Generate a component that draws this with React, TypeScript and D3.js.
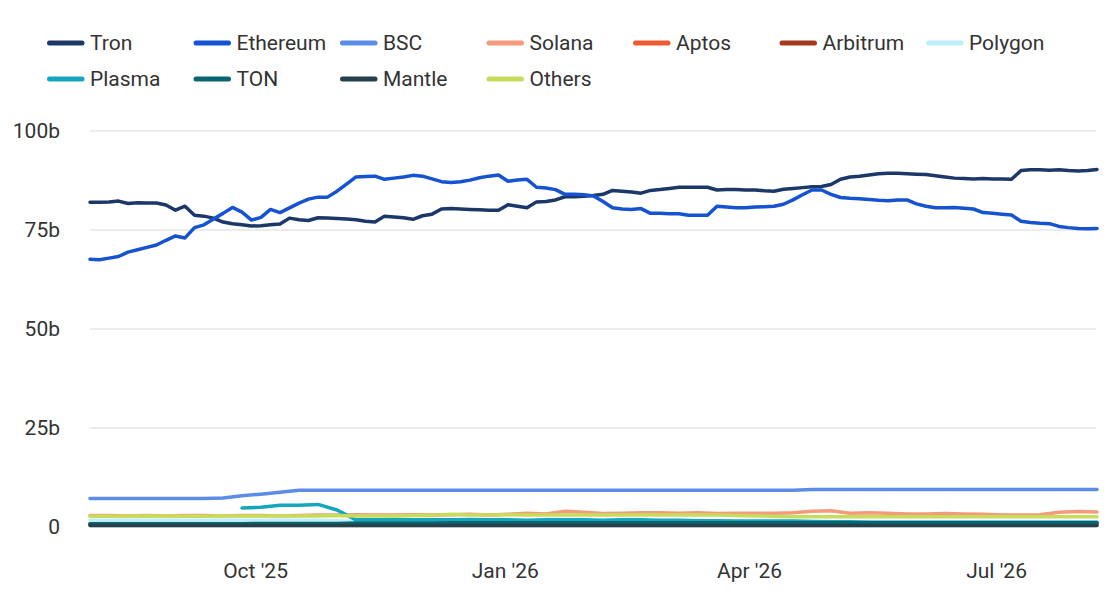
import * as d3 from "d3";

// observations start 1 Aug 2025; the two big chains are read twice a week, the rest weekly
const startDate = new Date(2025, 7, 1);
const weeklyDates = d3.range(54).map((i) => d3.timeDay.offset(startDate, i * 7));
const halfWeekDates = d3.range(107).map((i) => d3.timeHour.offset(startDate, i * 84));

const tron = [
  82.0, 82.0, 82.1, 82.3, 81.7, 81.9, 81.8, 81.8, 81.3, 80.0,
  81.0, 78.7, 78.5, 78.0, 77.0, 76.6, 76.3, 76.0, 76.1, 76.3,
  76.5, 78.0, 77.6, 77.4, 78.1, 78.0, 77.9, 77.8, 77.6, 77.2,
  77.0, 78.5, 78.3, 78.1, 77.7, 78.6, 79.0, 80.3, 80.4, 80.3,
  80.2, 80.1, 80.0, 80.0, 81.4, 81.0, 80.6, 82.1, 82.2, 82.6,
  83.4, 83.4, 83.5, 83.7, 84.0, 85.0, 84.8, 84.6, 84.3, 85.0,
  85.2, 85.5, 85.8, 85.8, 85.8, 85.8, 85.1, 85.2, 85.2, 85.1,
  85.1, 84.9, 84.8, 85.3, 85.5, 85.7, 85.9, 86.0, 86.5, 87.8,
  88.4, 88.6, 88.9, 89.2, 89.3, 89.3, 89.2, 89.1, 89.0, 88.7,
  88.4, 88.1, 88.0, 87.9, 88.0, 87.9, 87.9, 87.8, 90.0, 90.2,
  90.2, 90.1, 90.2, 90.0, 89.9, 90.0, 90.3,
];
const ethereum = [
  67.6, 67.5, 67.9, 68.3, 69.4, 70.0, 70.6, 71.2, 72.4, 73.5,
  73.0, 75.6, 76.3, 77.8, 79.2, 80.7, 79.5, 77.5, 78.2, 80.2,
  79.4, 80.6, 81.8, 82.8, 83.3, 83.3, 84.8, 86.6, 88.4, 88.5,
  88.6, 87.8, 88.1, 88.4, 88.8, 88.6, 87.9, 87.2, 87.0, 87.2,
  87.6, 88.2, 88.6, 88.9, 87.3, 87.6, 87.8, 85.8, 85.6, 85.2,
  84.0, 84.0, 83.9, 83.6, 82.2, 80.6, 80.3, 80.2, 80.4, 79.2,
  79.2, 79.1, 79.1, 78.7, 78.7, 78.7, 81.0, 80.8, 80.6, 80.6,
  80.8, 80.9, 81.0, 81.5, 82.6, 83.9, 85.1, 85.1, 84.0, 83.2,
  83.0, 82.9, 82.7, 82.5, 82.4, 82.6, 82.6, 81.6, 81.0, 80.6,
  80.6, 80.7, 80.5, 80.3, 79.4, 79.2, 79.0, 78.8, 77.2, 76.9,
  76.7, 76.6, 75.9, 75.6, 75.4, 75.3, 75.4,
];
const bsc = [
  7.2, 7.2, 7.2, 7.2, 7.2, 7.2, 7.2, 7.3, 7.9, 8.3,
  8.8, 9.3, 9.3, 9.3, 9.3, 9.3, 9.3, 9.3, 9.3, 9.3,
  9.3, 9.3, 9.3, 9.3, 9.3, 9.3, 9.3, 9.3, 9.3, 9.3,
  9.3, 9.3, 9.3, 9.3, 9.3, 9.3, 9.3, 9.3, 9.5, 9.5,
  9.5, 9.5, 9.5, 9.5, 9.5, 9.5, 9.5, 9.5, 9.5, 9.5,
  9.5, 9.5, 9.5, 9.5,
];
const solana = [
  2.9, 2.9, 2.8, 2.9, 2.8, 2.9, 2.9, 2.8, 2.9, 2.9,
  2.8, 2.9, 3.0, 3.0, 3.1, 3.0, 3.0, 3.1, 3.0, 3.1,
  3.2, 3.0, 3.2, 3.5, 3.3, 4.0, 3.7, 3.4, 3.5, 3.6,
  3.6, 3.5, 3.6, 3.4, 3.5, 3.5, 3.5, 3.6, 4.0, 4.1,
  3.5, 3.6, 3.5, 3.3, 3.3, 3.4, 3.3, 3.2, 3.0, 3.0,
  3.1, 3.7, 3.9, 3.8,
];
const aptos = [
  0.8, 0.8, 0.9, 0.9, 0.9, 1.0, 1.0, 1.0, 1.0, 1.1,
  1.1, 1.1, 1.0, 1.0, 1.0, 1.0, 1.1, 1.1, 1.1, 1.0,
  1.0, 1.0, 1.0, 1.0, 1.0, 0.9, 0.9, 0.9, 0.9, 0.9,
  0.9, 0.9, 0.9, 0.9, 0.9, 0.9, 0.9, 0.9, 0.9, 0.9,
  0.9, 0.9, 0.9, 0.9, 0.9, 0.9, 0.9, 0.9, 0.9, 0.9,
  0.9, 0.9, 0.9, 0.9,
];
const arbitrum = [
  0.7, 0.7, 0.7, 0.7, 0.7, 0.7, 0.8, 0.8, 0.8, 0.8,
  0.8, 0.8, 0.8, 0.8, 0.8, 0.8, 0.8, 0.8, 0.8, 0.8,
  0.8, 0.8, 0.8, 0.8, 0.8, 0.8, 0.8, 0.8, 0.8, 0.8,
  0.8, 0.8, 0.8, 0.8, 0.8, 0.8, 0.8, 0.8, 0.8, 0.8,
  0.8, 0.8, 0.8, 0.8, 0.8, 0.8, 0.8, 0.8, 0.8, 0.8,
  0.8, 0.8, 0.8, 0.8,
];
const polygon = [
  1.7, 1.7, 1.7, 1.7, 1.7, 1.7, 1.7, 1.7, 1.7, 1.7,
  1.7, 1.7, 1.7, 1.6, 1.3, 1.3, 1.3, 1.3, 1.3, 1.3,
  1.3, 1.3, 1.3, 1.3, 1.3, 1.3, 1.3, 1.3, 1.3, 1.3,
  1.3, 1.3, 1.3, 1.3, 1.3, 1.3, 1.3, 1.3, 1.3, 1.3,
  1.3, 1.3, 1.3, 1.3, 1.3, 1.3, 1.3, 1.3, 1.3, 1.3,
  1.3, 1.3, 1.3, 1.3,
];
const plasma = [
  null, null, null, null, null, null, null, null, 4.8, 5.0,
  5.5, 5.5, 5.7, 4.3, 1.8, 1.8, 1.9, 1.8, 1.8, 1.8,
  1.9, 1.8, 1.8, 1.7, 1.8, 1.8, 1.8, 1.7, 1.8, 1.8,
  1.7, 1.7, 1.6, 1.6, 1.5, 1.5, 1.5, 1.5, 1.4, 1.3,
  1.3, 1.2, 1.2, 1.2, 1.2, 1.2, 1.2, 1.2, 1.2, 1.2,
  1.2, 1.2, 1.2, 1.2,
];
const ton = [
  0.8, 0.8, 0.8, 0.8, 0.8, 0.8, 0.8, 0.8, 0.8, 0.9,
  0.9, 0.9, 0.9, 0.9, 1.0, 1.0, 1.0, 1.0, 1.0, 1.1,
  1.1, 1.1, 1.1, 1.1, 1.1, 1.1, 1.1, 1.1, 1.1, 1.1,
  1.1, 1.1, 1.1, 1.1, 1.1, 1.1, 1.1, 1.1, 1.1, 1.1,
  1.1, 1.1, 1.1, 1.1, 1.1, 1.1, 1.1, 1.1, 1.1, 1.1,
  1.1, 1.1, 1.1, 1.1,
];
const mantle = [
  0.4, 0.4, 0.4, 0.4, 0.4, 0.4, 0.4, 0.4, 0.4, 0.4,
  0.4, 0.4, 0.4, 0.4, 0.4, 0.4, 0.4, 0.4, 0.4, 0.4,
  0.4, 0.4, 0.4, 0.4, 0.4, 0.4, 0.4, 0.4, 0.4, 0.4,
  0.4, 0.4, 0.4, 0.4, 0.4, 0.4, 0.4, 0.4, 0.4, 0.4,
  0.4, 0.4, 0.4, 0.4, 0.4, 0.4, 0.4, 0.4, 0.4, 0.4,
  0.4, 0.4, 0.4, 0.4,
];
const others = [
  2.7, 2.7, 2.7, 2.8, 2.7, 2.7, 2.7, 2.8, 2.8, 2.8,
  2.8, 2.8, 2.8, 2.9, 2.8, 2.8, 2.8, 2.9, 2.9, 3.2,
  3.0, 3.0, 3.1, 3.0, 3.0, 3.0, 3.0, 3.0, 3.0, 3.0,
  3.0, 3.0, 3.0, 3.0, 2.9, 2.8, 2.7, 2.6, 2.6, 2.6,
  2.6, 2.6, 2.6, 2.6, 2.6, 2.6, 2.6, 2.6, 2.6, 2.6,
  2.6, 2.6, 2.6, 2.6,
];

const seriesNames = ["Tron", "Ethereum", "BSC", "Solana", "Aptos", "Arbitrum", "Polygon", "Plasma", "TON", "Mantle", "Others"];
const seriesValues = [tron, ethereum, bsc, solana, aptos, arbitrum, polygon, plasma, ton, mantle, others];
const seriesColors = ["#1c3868", "#1553d0", "#5b8de8", "#f59a7c", "#ef5a33", "#a33a1c", "#bdeefa", "#14a6bd", "#0b6471", "#25414b", "#c8dc5c"];

const yTicks = [0, 25, 50, 75, 100];
const yTickLabels = ["0", "25b", "50b", "75b", "100b"];
const xTicks = [new Date(2025, 9, 1), new Date(2026, 0, 1), new Date(2026, 3, 1), new Date(2026, 6, 1)];
const xTickLabels = ["Oct '25", "Jan '26", "Apr '26", "Jul '26"];

const width = 1120;
const height = 598;
const font = "Roboto, 'Noto Sans', sans-serif";

export default function App() {
  const x = d3.scaleTime().domain([weeklyDates[0], weeklyDates[weeklyDates.length - 1]]).range([90, 1097]);
  const y = d3.scaleLinear().domain([0, 100]).range([527, 131]);

  const pathFor = (vals: (number | null)[]) => {
    const ds = vals.length === halfWeekDates.length ? halfWeekDates : weeklyDates;
    return (
      d3
        .line<number | null>()
        .defined((d) => d != null)
        .x((_, i) => x(ds[i]))
        .y((d) => y(d as number))(vals) ?? ""
    );
  };

  return (
    <svg
      width={width}
      height={height}
      style={{ position: "absolute", left: 0, top: 0, background: "#fff" }}
      fontFamily={font}
    >
      {/* legend */}
      {seriesNames.map((name, i) => {
        const col = i < 7 ? i : i - 7;
        const row = i < 7 ? 0 : 1;
        const lx = 47 + col * 146.5;
        const ly = 43 + row * 36;
        return (
          <g key={name} transform={`translate(${lx},${ly})`}>
            <line x1={2.5} x2={35} y1={0} y2={0} stroke={seriesColors[i]} strokeWidth={5} strokeLinecap="round" />
            <text x={43} y={7} fontSize={21} fill="#333">
              {name}
            </text>
          </g>
        );
      })}

      {/* grid and y axis */}
      {yTicks.map((t, i) => (
        <g key={t}>
          <line x1={90} x2={1096} y1={y(t)} y2={y(t)} stroke="#e6e6e6" strokeWidth={1.5} />
          <text x={60} y={y(t) + 7} textAnchor="end" fontSize={21} fill="#333">
            {yTickLabels[i]}
          </text>
        </g>
      ))}

      {/* x axis labels */}
      {xTicks.map((t, i) => (
        <text key={i} x={x(t)} y={578} textAnchor="middle" fontSize={21} fill="#333">
          {xTickLabels[i]}
        </text>
      ))}

      {/* series */}
      {seriesValues.map((vals, i) => (
        <path
          key={seriesNames[i]}
          d={pathFor(vals)}
          fill="none"
          stroke={seriesColors[i]}
          strokeWidth={3.5}
          strokeLinejoin="round"
          strokeLinecap="round"
        />
      ))}
    </svg>
  );
}
